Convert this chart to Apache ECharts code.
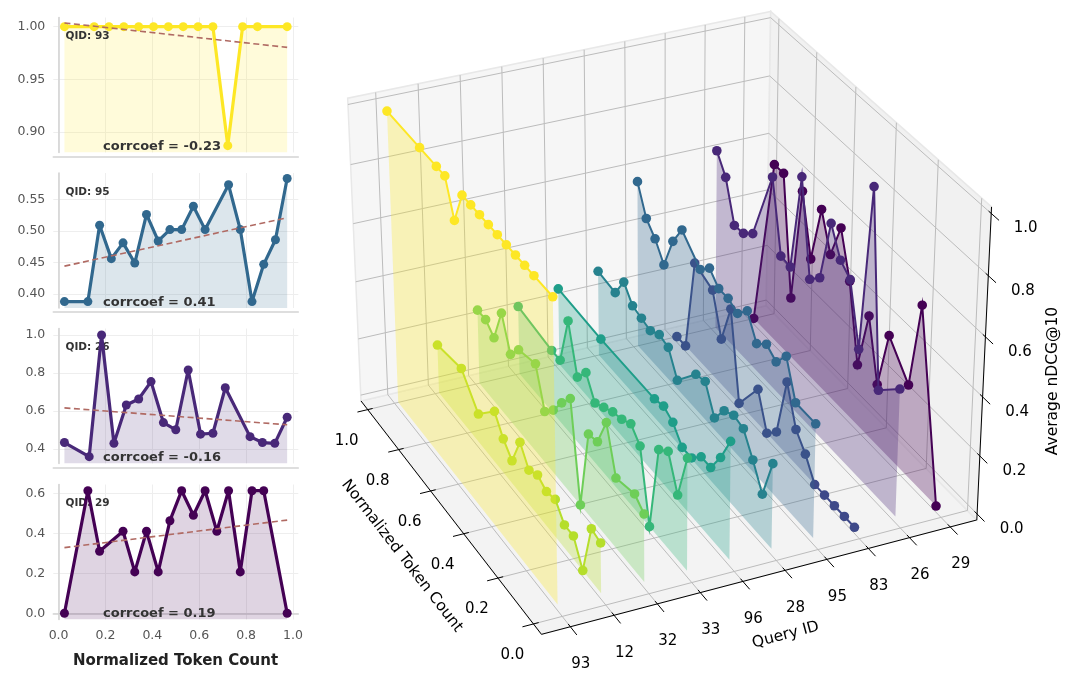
<!DOCTYPE html>
<html>
<head>
<meta charset="utf-8">
<script src="https://cdn.jsdelivr.net/npm/echarts@6/dist/echarts.min.js"></script>
<style>
html,body{margin:0;padding:0;background:#ffffff;}
#chart{width:1080px;height:686px;}
</style>
</head>
<body>
<div id="chart"></div>
<script>
// ================= LEFT PANELS (2D) DATA =================
const panelQids = ['93', '95', '26', '29'];
const tok93_2d = [0.025, 0.1517, 0.215, 0.2783, 0.3417, 0.405, 0.4683, 0.5317, 0.595, 0.6583, 0.7217, 0.785, 0.8483, 0.975];
const ndcg93_2d = [1, 1, 1, 1, 1, 1, 1, 1, 1, 1, 0.887, 1, 1, 1];
const tok95_2d = [0.025, 0.125, 0.175, 0.225, 0.275, 0.325, 0.375, 0.425, 0.475, 0.525, 0.575, 0.625, 0.725, 0.775, 0.825, 0.875, 0.925, 0.975];
const ndcg95_2d = [0.388, 0.388, 0.509, 0.456, 0.481, 0.449, 0.526, 0.484, 0.502, 0.502, 0.539, 0.502, 0.573, 0.502, 0.388, 0.447, 0.486, 0.583];
const tok26_2d = [0.025, 0.1306, 0.1833, 0.2361, 0.2889, 0.3417, 0.3944, 0.4472, 0.5, 0.5528, 0.6056, 0.6583, 0.7111, 0.8167, 0.8694, 0.9222, 0.975];
const ndcg26_2d = [0.435, 0.361, 1.0, 0.431, 0.632, 0.664, 0.755, 0.54, 0.502, 0.816, 0.479, 0.484, 0.723, 0.466, 0.435, 0.431, 0.568];
const tok29_2d = [0.025, 0.125, 0.175, 0.275, 0.325, 0.375, 0.425, 0.475, 0.525, 0.575, 0.625, 0.675, 0.725, 0.775, 0.825, 0.875, 0.975];
const ndcg29_2d = [0, 0.613, 0.31, 0.41, 0.207, 0.41, 0.207, 0.463, 0.613, 0.49, 0.613, 0.41, 0.613, 0.207, 0.613, 0.613, 0];
const corrLabels = ['-0.23', '0.41', '-0.16', '0.19'];
const yTicks2d = [[0.90, 0.95, 1.00], [0.40, 0.45, 0.50, 0.55], [0.4, 0.6, 0.8, 1.0], [0.0, 0.2, 0.4, 0.6]];
const xTicks2d = [0, 0.2, 0.4, 0.6, 0.8, 1.0];

// ================= 3D DATA =================
const QIDS = ['93', '12', '32', '33', '96', '28', '95', '83', '26', '29'];
const tokenTicks3d = [0, 0.2, 0.4, 0.6, 0.8, 1.0];
const ndcgTicks3d = [0, 0.2, 0.4, 0.6, 0.8, 1.0];

const tok3d_93 = [0.025, 0.125, 0.175, 0.225, 0.275, 0.325, 0.375, 0.425, 0.475, 0.525, 0.575, 0.625, 0.675, 0.775, 0.975];
const ndcg3d_93 = [1, 1, 1, 1, 1, 1, 1, 1, 1, 1, 0.887, 1, 1, 1, 1];
const tok3d_12 = [0.025, 0.075, 0.125, 0.175, 0.225, 0.275, 0.325, 0.375, 0.425, 0.475, 0.525, 0.575, 0.625, 0.725, 0.825, 0.975];
const ndcg3d_12 = [0.17, 0.18, 0.00, 0.08, 0.08, 0.13, 0.12, 0.14, 0.12, 0.18, 0.08, 0.12, 0.18, 0.10, 0.19, 0.17];
const tok3d_32 = [0.025, 0.075, 0.175, 0.225, 0.275, 0.325, 0.375, 0.425, 0.475, 0.525, 0.575, 0.625, 0.725, 0.775, 0.825, 0.875, 0.925, 0.975];
const ndcg3d_32 = [0.23, 0.26, 0.24, 0.39, 0.29, 0.28, 0.00, 0.33, 0.28, 0.22, 0.18, 0.31, 0.29, 0.24, 0.35, 0.23, 0.26, 0.26];
const tok3d_33 = [0.025, 0.075, 0.125, 0.175, 0.225, 0.275, 0.325, 0.375, 0.425, 0.475, 0.525, 0.575, 0.625, 0.675, 0.725, 0.775, 0.975];
const ndcg3d_33 = [0.38, 0.22, 0.33, 0.30, 0.00, 0.24, 0.28, 0.26, 0.25, 0.23, 0.21, 0.28, 0.23, 0.39, 0.22, 0.22, 0.24];
const tok3d_96 = [0.025, 0.075, 0.125, 0.175, 0.225, 0.275, 0.325, 0.375, 0.425, 0.725, 0.975];
const ndcg3d_96 = [0.40, 0.31, 0.24, 0.24, 0.20, 0.20, 0.25, 0.27, 0.26, 0.26, 0.27];
const tok3d_28 = [0.025, 0.075, 0.125, 0.175, 0.225, 0.275, 0.325, 0.375, 0.425, 0.525, 0.575, 0.625, 0.675, 0.725, 0.775, 0.825, 0.875, 0.975];
const ndcg3d_28 = [0.29, 0.15, 0.23, 0.30, 0.31, 0.29, 0.23, 0.32, 0.31, 0.22, 0.30, 0.31, 0.29, 0.30, 0.31, 0.36, 0.29, 0.30];
const tok3d_95 = [0.025, 0.125, 0.175, 0.225, 0.275, 0.325, 0.375, 0.425, 0.475, 0.525, 0.575, 0.625, 0.725, 0.775, 0.825, 0.875, 0.925, 0.975];
const ndcg3d_95 = [0.388, 0.388, 0.509, 0.456, 0.481, 0.449, 0.526, 0.484, 0.502, 0.502, 0.539, 0.502, 0.573, 0.502, 0.388, 0.447, 0.486, 0.583];
const tok3d_83 = [0.025, 0.075, 0.125, 0.175, 0.225, 0.275, 0.325, 0.375, 0.425, 0.475, 0.525, 0.625, 0.675, 0.725, 0.775, 0.875, 0.925, 0.975];
const ndcg3d_83 = [0, 0, 0, 0, 0, 0.07, 0.12, 0.25, 0.04, 0, 0.12, 0, 0.30, 0.16, 0.30, 0.33, 0, 0];
const tok3d_26 = [0.025, 0.125, 0.175, 0.225, 0.275, 0.325, 0.375, 0.425, 0.475, 0.525, 0.575, 0.625, 0.675, 0.775, 0.825, 0.875, 0.925, 0.975];
const ndcg3d_26 = [0.435, 0.361, 1.0, 0.431, 0.632, 0.664, 0.755, 0.54, 0.502, 0.816, 0.479, 0.484, 0.723, 0.466, 0.435, 0.431, 0.568, 0.63];
const tok3d_29 = [0.025, 0.125, 0.175, 0.275, 0.325, 0.375, 0.425, 0.475, 0.525, 0.575, 0.625, 0.675, 0.725, 0.775, 0.825, 0.875, 0.975];
const ndcg3d_29 = [0, 0.613, 0.31, 0.41, 0.207, 0.41, 0.207, 0.463, 0.613, 0.49, 0.613, 0.41, 0.613, 0.207, 0.613, 0.613, 0];

const SERIES3D = {
  '93': [tok3d_93, ndcg3d_93], '12': [tok3d_12, ndcg3d_12], '32': [tok3d_32, ndcg3d_32],
  '33': [tok3d_33, ndcg3d_33], '96': [tok3d_96, ndcg3d_96], '28': [tok3d_28, ndcg3d_28],
  '95': [tok3d_95, ndcg3d_95], '83': [tok3d_83, ndcg3d_83], '26': [tok3d_26, ndcg3d_26], '29': [tok3d_29, ndcg3d_29]
};

// ================= STYLE / LAYOUT =================
const COLORS3D = ['#fde725', '#b5de2b', '#6ece58', '#35b779', '#1f9e89', '#26828e', '#31688e', '#3e4989', '#482878', '#440154'];
const panelColors = ['#fde725', '#31688e', '#482878', '#440154'];
const yRanges = [[0.8805, 1.0087], [0.3778, 0.5917], [0.325, 1.034], [-0.031, 0.644]];
const yDecimals = [2, 2, 1, 1];
const PANEL_TOPS = [17.5, 173, 328.5, 484.5];
const PANEL_LEFT = 53.3, PANEL_W = 245, PANEL_H = 135;

// 3D view (matplotlib-like perspective camera) and axis limits
const VIEW_ELEV = 29.92, VIEW_AZIM = -115.02;
const VIEW_SCALE = 3976.1, VIEW_OX = 661.4, VIEW_OY = 308.5;
const XLIM = [-0.45, 9.45], YLIM = [-0.0225, 1.0225], ZLIM = [0, 1];

// ================= 3D PROJECTION =================
const BOXN = Math.sqrt(41);
const BOX = [4, 4, 3].map(v => v * 1.8294640721620434 / BOXN);
function makeView(elev, azim) {
  const e = elev * Math.PI / 180, a = azim * Math.PI / 180;
  const w = [Math.cos(e) * Math.cos(a), Math.cos(e) * Math.sin(a), Math.sin(e)];
  const R = BOX.map(v => v / 2);
  const eye = [R[0] + 10 * w[0], R[1] + 10 * w[1], R[2] + 10 * w[2]];
  const un = Math.hypot(w[0], w[1]);
  const u = [-w[1] / un, w[0] / un, 0];
  const v = [w[1] * u[2] - w[2] * u[1], w[2] * u[0] - w[0] * u[2], w[0] * u[1] - w[1] * u[0]];
  return { eye, u, v, w };
}
function toWorld(x, y, z) {
  return [(x - XLIM[0]) / (XLIM[1] - XLIM[0]) * BOX[0],
          (y - YLIM[0]) / (YLIM[1] - YLIM[0]) * BOX[1],
          (z - ZLIM[0]) / (ZLIM[1] - ZLIM[0]) * BOX[2]];
}
const VIEW = makeView(VIEW_ELEV, VIEW_AZIM);
function proj3(x, y, z) {
  const p = toWorld(x, y, z);
  const q = [p[0] - VIEW.eye[0], p[1] - VIEW.eye[1], p[2] - VIEW.eye[2]];
  const X = VIEW.u[0] * q[0] + VIEW.u[1] * q[1] + VIEW.u[2] * q[2];
  const Y = VIEW.v[0] * q[0] + VIEW.v[1] * q[1] + VIEW.v[2] * q[2];
  const Z = VIEW.w[0] * q[0] + VIEW.w[1] * q[1] + VIEW.w[2] * q[2];
  return [X / (-Z), Y / (-Z)];
}
function paneBounds() {
  const dx = (XLIM[1] - XLIM[0]) / 48, dy = (YLIM[1] - YLIM[0]) / 48, dz = (ZLIM[1] - ZLIM[0]) / 48;
  return { x0: XLIM[0] - dx, x1: XLIM[1] + dx, y0: YLIM[0] - dy, y1: YLIM[1] + dy, z0: ZLIM[0] - dz, z1: ZLIM[1] + dz };
}

// ================= RENDER HELPERS =================
function linfit(xs, ys) {
  const n = xs.length; let mx = 0, my = 0;
  for (let i = 0; i < n; i++) { mx += xs[i]; my += ys[i]; }
  mx /= n; my /= n;
  let sxy = 0, sxx = 0;
  for (let i = 0; i < n; i++) { sxy += (xs[i] - mx) * (ys[i] - my); sxx += (xs[i] - mx) * (xs[i] - mx); }
  const k = sxy / sxx, b = my - k * mx;
  return [[xs[0], k * xs[0] + b], [xs[n - 1], k * xs[n - 1] + b]];
}

function renderBox(params, api) {
  const P = (x, y, z) => api.coord(proj3(x, y, z));
  const B = paneBounds();
  const ch = [];
  const poly = (pts, fill) => ch.push({ type: 'polygon', shape: { points: pts.map(p => P(p[0], p[1], p[2])) }, style: { fill: fill, stroke: '#e8e8e8', lineWidth: 1.5 } });
  poly([[B.x0, B.y0, B.z0], [B.x1, B.y0, B.z0], [B.x1, B.y1, B.z0], [B.x0, B.y1, B.z0]], '#f3f3f3');
  poly([[B.x0, B.y1, B.z0], [B.x1, B.y1, B.z0], [B.x1, B.y1, B.z1], [B.x0, B.y1, B.z1]], '#f6f6f6');
  poly([[B.x1, B.y0, B.z0], [B.x1, B.y1, B.z0], [B.x1, B.y1, B.z1], [B.x1, B.y0, B.z1]], '#f1f1f1');
  const seg = (a, b, color, w) => { const p = P(a[0], a[1], a[2]), q = P(b[0], b[1], b[2]); ch.push({ type: 'line', shape: { x1: p[0], y1: p[1], x2: q[0], y2: q[1] }, style: { stroke: color, lineWidth: w, fill: 'none' } }); };
  const GC = '#bcbcbc', GW = 1;
  QIDS.forEach((q, k) => { seg([k, B.y0, B.z0], [k, B.y1, B.z0], GC, GW); seg([k, B.y1, B.z0], [k, B.y1, B.z1], GC, GW); });
  tokenTicks3d.forEach(t => { seg([B.x0, t, B.z0], [B.x1, t, B.z0], GC, GW); seg([B.x1, t, B.z0], [B.x1, t, B.z1], GC, GW); });
  ndcgTicks3d.forEach(z => { seg([B.x0, B.y1, z], [B.x1, B.y1, z], GC, GW); seg([B.x1, B.y0, z], [B.x1, B.y1, z], GC, GW); });
  seg([B.x0, B.y0, B.z0], [B.x1, B.y0, B.z0], '#000', 1);
  seg([B.x0, B.y0, B.z0], [B.x0, B.y1, B.z0], '#000', 1);
  seg([B.x1, B.y0, B.z0], [B.x1, B.y0, B.z1], '#000', 1);
  const font = '15px DejaVu Sans';
  const label = (txt, p, dx, dy) => ch.push({ type: 'text', x: p[0] + dx, y: p[1] + dy, style: { text: txt, fill: '#000', font: font, align: 'center', verticalAlign: 'middle' } });
  QIDS.forEach((q, k) => {
    seg([k, B.y0 + 0.012, B.z0], [k, B.y0 - 0.035, B.z0], '#000', 1);
    label(q, P(k, B.y0, B.z0), 10.5, 37.5);
  });
  tokenTicks3d.forEach(t => {
    seg([B.x0 + 0.12, t, B.z0], [B.x0 - 0.25, t, B.z0], '#000', 1);
    label(t.toFixed(1), P(B.x0, t, B.z0), -21, 31);
  });
  ndcgTicks3d.forEach(z => {
    seg([B.x1, B.y0 + 0.012, z], [B.x1, B.y0 - 0.035, z], '#000', 1);
    label(z.toFixed(1), P(B.x1, B.y0, z), 34.5, 15);
  });
  return { type: 'group', children: ch };
}

function makeSeriesRenderer(k, toks, vals, color) {
  return function (params, api) {
    const P = (x, y, z) => api.coord(proj3(x, y, z));
    const idx = toks.map((t, i) => i).sort((a, b) => toks[b] - toks[a]);
    const pts = idx.map(i => P(k, toks[i], vals[i]));
    const tHi = toks[idx[0]], tLo = toks[idx[idx.length - 1]];
    const polyPts = pts.concat([P(k, tLo, 0), P(k, tHi, 0)]);
    const ch = [
      { type: 'polygon', shape: { points: polyPts }, style: { fill: color, opacity: 0.3, stroke: 'none' } },
      { type: 'polyline', shape: { points: pts }, style: { stroke: color, lineWidth: 2, fill: 'none' } }
    ];
    pts.forEach(p => ch.push({ type: 'circle', shape: { cx: p[0], cy: p[1], r: 4.8 }, style: { fill: color, stroke: 'none' } }));
    return { type: 'group', children: ch };
  };
}

// ================= OPTION =================
const panels2d = [[tok93_2d, ndcg93_2d], [tok95_2d, ndcg95_2d], [tok26_2d, ndcg26_2d], [tok29_2d, ndcg29_2d]];
const grids = [], xAxes = [], yAxes = [], series = [], graphics = [];
panels2d.forEach((pd, i) => {
  const col = panelColors[i];
  const pts = pd[0].map((x, j) => [x, pd[1][j]]);
  grids.push({ left: PANEL_LEFT, top: PANEL_TOPS[i], width: PANEL_W, height: PANEL_H, outerBoundsMode: 'none', containLabel: false });
  xAxes.push({
    type: 'value', gridIndex: i, min: -0.0225, max: 1.0225, offset: 4,
    axisLine: { show: true, lineStyle: { color: '#d4d4d4', width: 1.6 } },
    axisTick: { show: false, customValues: xTicks2d },
    axisLabel: { show: i === 3, customValues: xTicks2d, formatter: v => Number(v).toFixed(1), color: '#555', fontSize: 12.5, margin: 6, fontFamily: 'DejaVu Sans' },
    splitLine: { show: true, lineStyle: { color: '#eeeeee', width: 1 } }
  });
  yAxes.push({
    type: 'value', gridIndex: i, min: yRanges[i][0], max: yRanges[i][1],
    axisLine: { show: true, lineStyle: { color: '#d4d4d4', width: 1.6 } },
    axisTick: { show: false, customValues: yTicks2d[i] },
    axisLabel: { customValues: yTicks2d[i], formatter: (v => Number(v).toFixed(yDecimals[i])), color: '#555', fontSize: 12.5, margin: 8, fontFamily: 'DejaVu Sans' },
    splitLine: { show: true, lineStyle: { color: '#eeeeee', width: 1 } }
  });
  // filled area (below the texts)
  series.push({
    type: 'line', xAxisIndex: i, yAxisIndex: i, data: pts, symbol: 'none',
    lineStyle: { width: 0, opacity: 0 }, areaStyle: { color: col, opacity: 0.17, origin: 'start' },
    z: 1, silent: true, animation: false
  });
  // line with markers (above the texts)
  series.push({
    type: 'line', xAxisIndex: i, yAxisIndex: i, data: pts,
    symbol: 'circle', symbolSize: 9, showSymbol: true, smooth: false,
    lineStyle: { color: col, width: 3.2 }, itemStyle: { color: col },
    z: 3, silent: true, animation: false
  });
  series.push({
    type: 'line', xAxisIndex: i, yAxisIndex: i, data: linfit(pd[0], pd[1]), symbol: 'none',
    lineStyle: { color: '#b06a63', width: 1.6, type: [6, 3.5] }, z: 4, silent: true, animation: false
  });
  graphics.push({ type: 'text', x: 65.5, y: PANEL_TOPS[i] + 19, z: 2, style: { text: 'QID: ' + panelQids[i], font: 'bold 10.5px DejaVu Sans', fill: '#333', align: 'left', verticalAlign: 'middle' } });
  graphics.push({ type: 'text', x: 103, y: PANEL_TOPS[i] + 129.5, z: 2, style: { text: 'corrcoef = ' + corrLabels[i], font: 'bold 13px DejaVu Sans', fill: '#333', align: 'left', verticalAlign: 'middle' } });
});
graphics.push({ type: 'text', x: 175.5, y: 661, style: { text: 'Normalized Token Count', font: 'bold 15px DejaVu Sans', fill: '#222', align: 'center', verticalAlign: 'middle' } });
graphics.push({ type: 'text', x: 785.7, y: 635, rotation: 14.8 * Math.PI / 180, style: { text: 'Query ID', font: '15.5px DejaVu Sans', fill: '#000', align: 'center', verticalAlign: 'middle' } });
graphics.push({ type: 'text', x: 402, y: 556, rotation: -52.3 * Math.PI / 180, style: { text: 'Normalized Token Count', font: '15.5px DejaVu Sans', fill: '#000', align: 'center', verticalAlign: 'middle' } });
graphics.push({ type: 'text', x: 1053, y: 381, rotation: Math.PI / 2, style: { text: 'Average nDCG@10', font: '15.5px DejaVu Sans', fill: '#000', align: 'center', verticalAlign: 'middle' } });

// 3D: hidden value axes spanning the whole canvas in projected screen units
const G3 = grids.length;
grids.push({ left: 0, top: 0, width: 1080, height: 686, outerBoundsMode: 'none', containLabel: false });
xAxes.push({ type: 'value', gridIndex: G3, min: (0 - VIEW_OX) / VIEW_SCALE, max: (1080 - VIEW_OX) / VIEW_SCALE, show: false });
yAxes.push({ type: 'value', gridIndex: G3, min: (VIEW_OY - 686) / VIEW_SCALE, max: VIEW_OY / VIEW_SCALE, show: false });
series.push({ type: 'custom', coordinateSystem: 'cartesian2d', xAxisIndex: G3, yAxisIndex: G3, data: [[0, 0]], renderItem: renderBox, silent: true, clip: false, animation: false, z: 1 });
for (let k = QIDS.length - 1; k >= 0; k--) {
  const sd = SERIES3D[QIDS[k]];
  series.push({ type: 'custom', coordinateSystem: 'cartesian2d', xAxisIndex: G3, yAxisIndex: G3, data: [[0, 0]], renderItem: makeSeriesRenderer(k, sd[0], sd[1], COLORS3D[k]), silent: true, clip: false, animation: false, z: 1 });
}

const chart = echarts.init(document.getElementById('chart'), null, { renderer: 'canvas' });
chart.setOption({
  animation: false,
  backgroundColor: '#ffffff',
  textStyle: { fontFamily: 'DejaVu Sans' },
  grid: grids, xAxis: xAxes, yAxis: yAxes, series: series, graphic: graphics
});
</script>
</body>
</html>
